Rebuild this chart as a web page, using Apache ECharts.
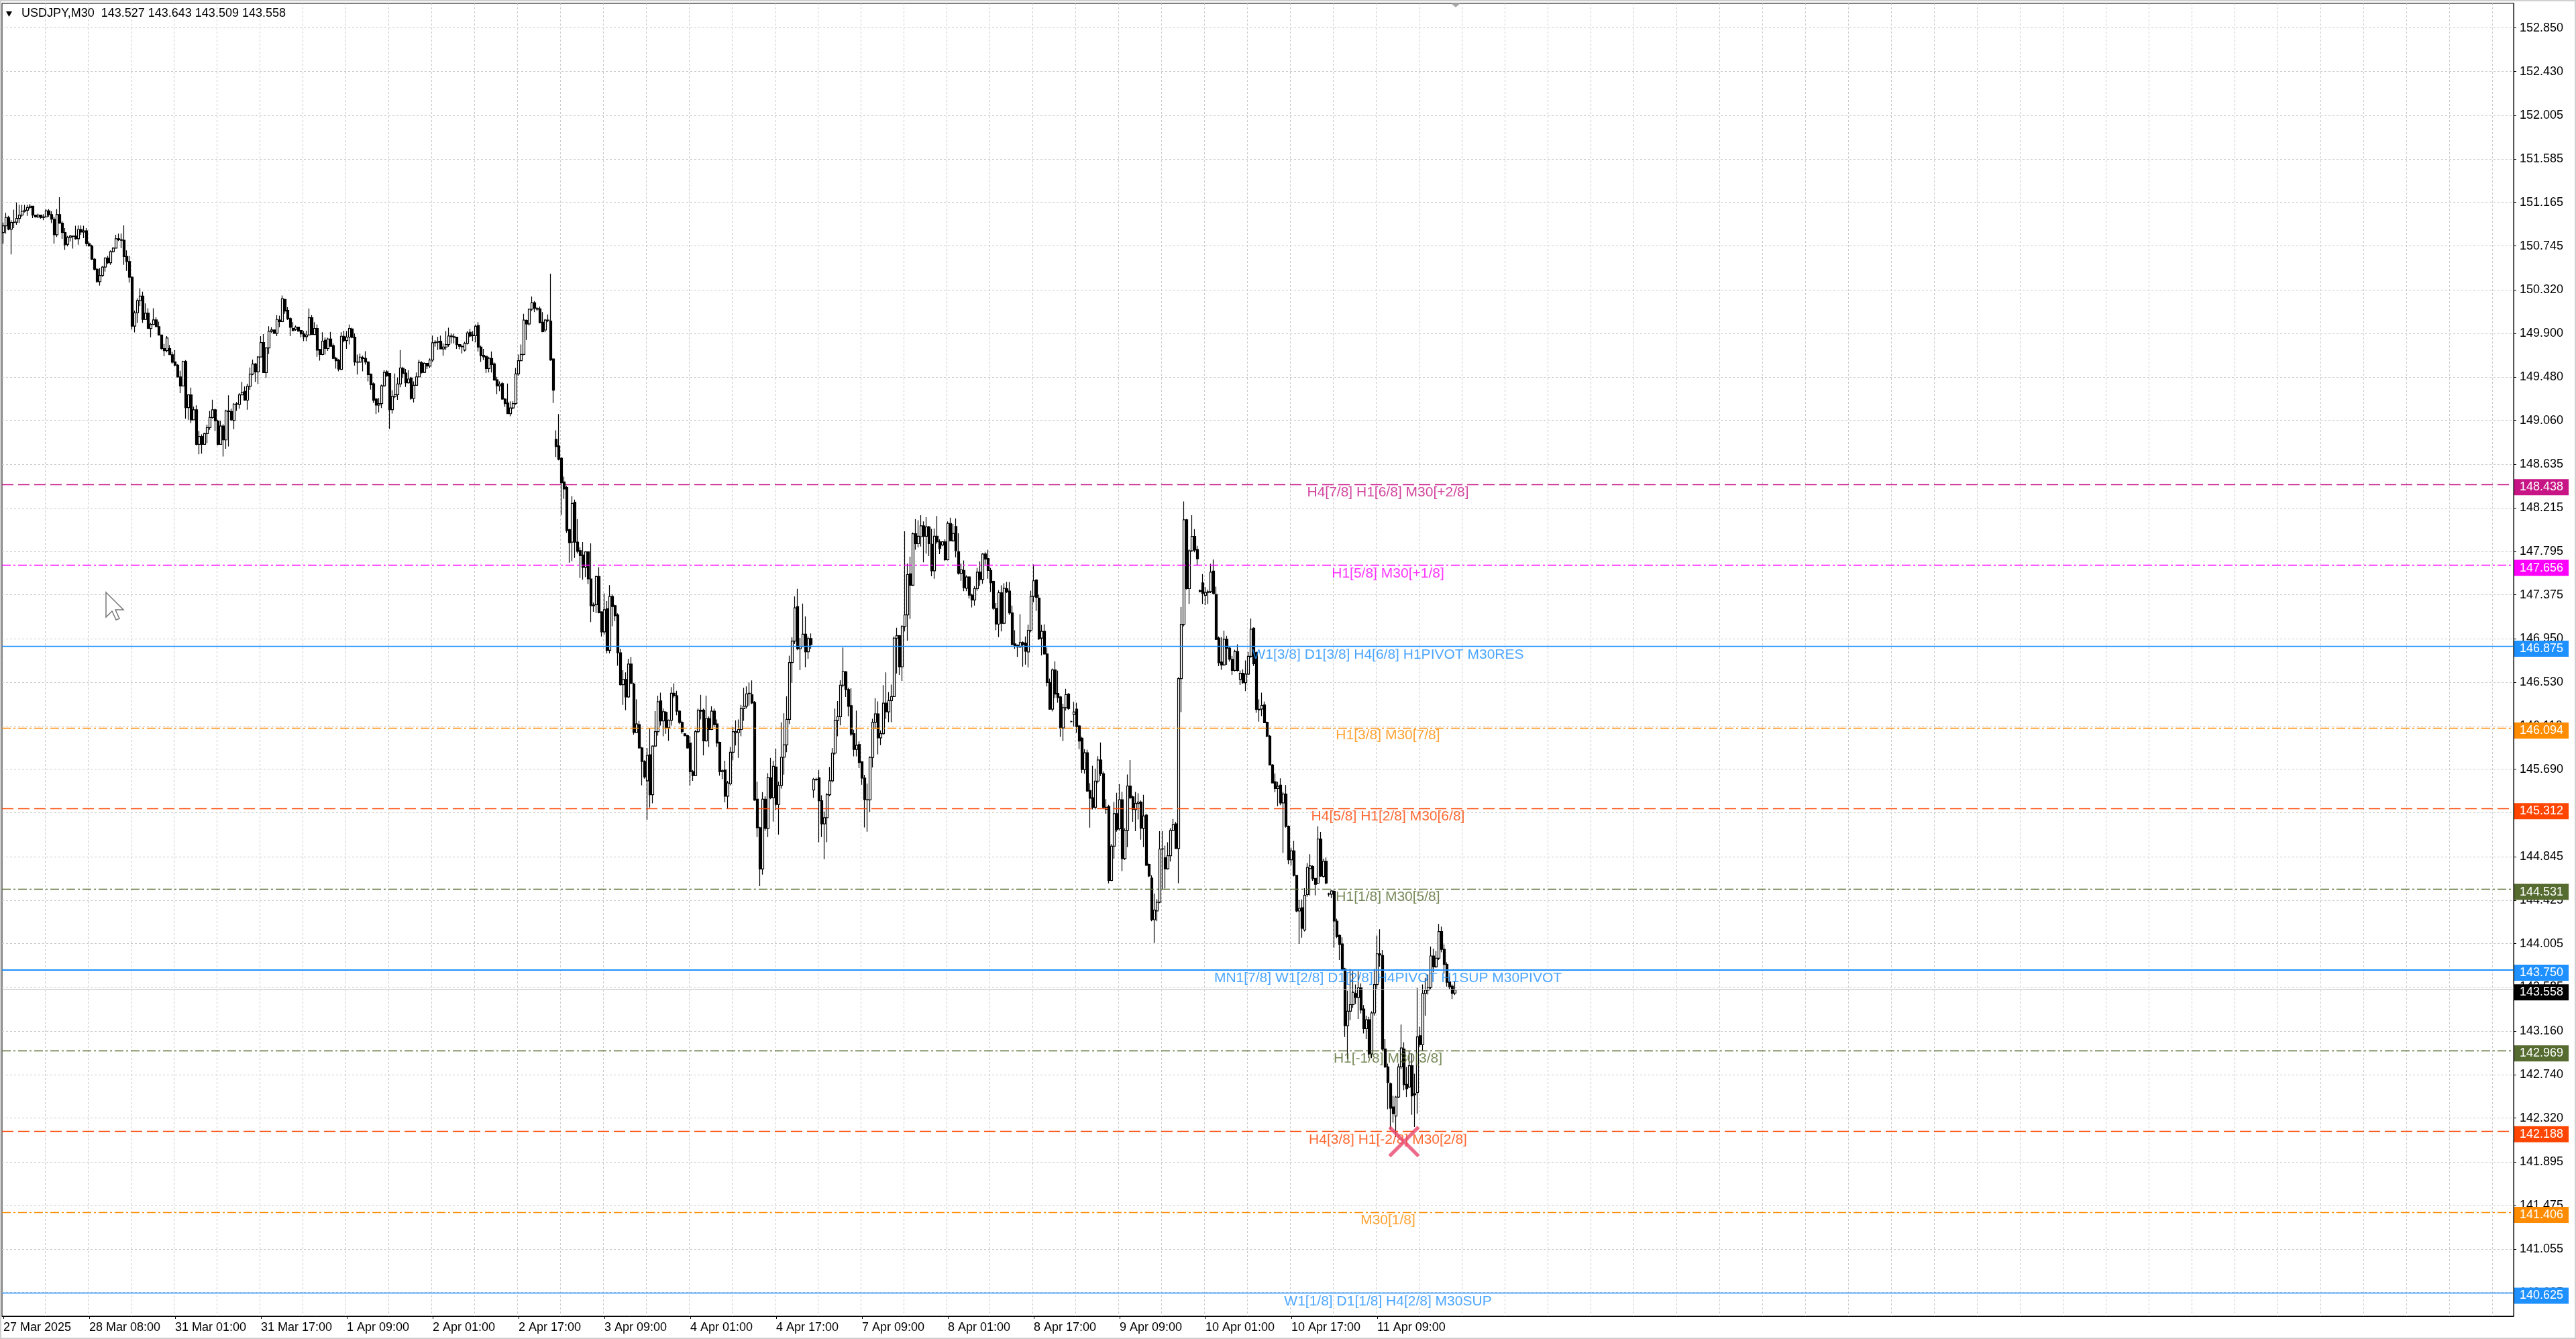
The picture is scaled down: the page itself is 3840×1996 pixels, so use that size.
<!DOCTYPE html>
<html lang="en">
<head>
<meta charset="UTF-8">
<title>USDJPY,M30</title>
<script src="https://cdn.jsdelivr.net/npm/echarts@6.0.0/dist/echarts.min.js"></script>
<style>
  html, body { margin: 0; padding: 0; background: #fff; }
  #main { width: 3840px; height: 1996px; }
</style>
</head>
<body>
<div id="main"></div>
<script>
// USDJPY M30 bars, rows are [open, high, low, close]
var bars = [
[150.874,150.971,150.767,150.939],[150.939,151.064,150.863,151.019],[151.019,151.036,150.896,150.907],[150.907,150.993,150.663,150.971],
[150.971,151.096,150.917,150.975],[150.975,151.165,150.950,151.010],[151.010,151.143,150.965,151.042],[151.042,151.143,151.025,151.079],
[151.079,151.143,151.068,151.090],[151.090,151.143,151.036,151.115],[151.115,151.148,151.100,151.128],[151.128,151.133,151.014,151.042],
[151.042,151.047,151.019,151.025],[151.025,151.057,151.014,151.042],[151.042,151.047,151.008,151.019],[151.019,151.051,150.993,151.025],
[151.025,151.100,151.025,151.083],[151.083,151.100,151.025,151.047],[151.047,151.079,150.965,151.003],[151.003,151.025,150.767,150.853],
[150.853,151.100,150.831,151.047],[151.047,151.215,150.960,150.965],[150.965,150.982,150.814,150.874],[150.874,150.917,150.706,150.756],
[150.761,150.842,150.741,150.827],[150.827,150.853,150.788,150.840],[150.840,150.842,150.719,150.836],[150.840,150.939,150.805,150.814],
[150.814,150.943,150.756,150.904],[150.904,150.943,150.853,150.879],[150.879,150.939,150.820,150.891],[150.891,150.917,150.741,150.767],
[150.767,150.788,150.741,150.745],[150.745,150.756,150.610,150.616],[150.616,150.627,150.508,150.519],[150.519,150.530,150.390,150.400],
[150.400,150.530,150.362,150.459],[150.459,150.551,150.448,150.540],[150.540,150.637,150.497,150.627],[150.627,150.648,150.568,150.583],
[150.583,150.702,150.562,150.689],[150.689,150.734,150.680,150.723],[150.723,150.853,150.719,150.814],[150.814,150.863,150.792,150.805],
[150.805,150.863,150.723,150.800],[150.800,150.943,150.562,150.642],[150.642,150.702,150.504,150.594],[150.594,150.648,150.390,150.443],
[150.443,150.450,149.937,149.970],[149.970,150.120,149.909,150.099],[150.099,150.239,150.002,150.217],[150.217,150.336,150.164,150.260],
[150.260,150.303,150.002,150.034],[150.034,150.189,150.030,150.095],[150.095,150.142,149.944,149.948],[149.948,150.002,149.862,149.987],
[149.987,150.142,149.980,150.030],[150.030,150.056,149.959,149.965],[149.965,150.013,149.879,149.884],[149.884,149.888,149.743,149.754],
[149.754,149.797,149.679,149.733],[149.733,149.873,149.716,149.855],[149.754,149.787,149.690,149.694],[149.694,149.722,149.608,149.621],
[149.626,149.737,149.582,149.593],[149.593,149.604,149.474,149.479],[149.479,149.539,149.323,149.392],[149.392,149.636,149.388,149.629],
[149.629,149.642,149.076,149.183],[149.183,149.313,149.065,149.306],[149.306,149.377,149.033,149.065],[149.065,149.194,149.060,149.162],
[149.162,149.205,148.817,148.828],[148.828,148.957,148.731,148.904],[148.904,148.925,148.738,148.828],[148.828,148.940,148.824,148.932],
[148.932,149.018,148.839,148.990],[148.990,149.151,148.968,149.087],[149.087,149.259,149.076,149.162],[149.162,149.173,148.957,149.054],
[149.054,149.065,148.817,148.828],[148.828,149.054,148.824,149.005],[149.005,149.022,148.710,148.871],[148.871,149.162,148.785,149.151],
[149.151,149.302,148.807,149.145],[149.145,149.173,149.054,149.065],[149.060,149.227,148.975,149.216],[149.216,149.237,149.151,149.220],
[149.214,149.323,149.173,149.306],[149.306,149.431,149.302,149.328],[149.340,149.388,149.248,149.255],[149.255,149.414,149.162,149.388],
[149.388,149.571,149.356,149.507],[149.507,149.647,149.496,149.604],[149.604,149.614,149.431,149.528],[149.528,149.679,149.410,149.672],
[149.672,149.873,149.668,149.812],[149.812,149.894,149.517,149.522],[149.522,149.765,149.470,149.759],[149.759,149.970,149.700,149.920],
[149.920,149.959,149.905,149.933],[149.933,149.937,149.894,149.901],[149.901,150.077,149.873,150.034],[150.029,150.072,149.960,150.014],
[150.014,150.266,150.008,150.234],[150.228,150.234,150.090,150.116],[150.122,150.154,150.029,150.040],[150.044,150.055,149.874,149.958],
[149.947,150.008,149.922,149.926],[149.939,149.976,149.926,149.960],[149.960,149.965,149.917,149.922],[149.928,149.932,149.861,149.896],
[149.896,149.922,149.825,149.868],[149.868,149.926,149.825,149.885],[149.885,150.141,149.879,150.051],[150.051,150.077,149.885,149.889],
[149.889,150.008,149.885,149.948],[149.948,149.986,149.674,149.739],[149.745,149.750,149.637,149.696],[149.696,149.911,149.689,149.825],
[149.835,149.861,149.696,149.754],[149.754,149.857,149.732,149.846],[149.846,149.915,149.771,149.775],[149.782,149.803,149.652,149.659],
[149.659,149.674,149.560,149.637],[149.641,149.652,149.534,149.556],[149.552,149.911,149.545,149.872],[149.872,149.926,149.814,149.831],
[149.831,149.922,149.750,149.864],[149.864,149.986,149.792,149.948],[149.943,149.954,149.853,149.861],[149.864,149.900,149.588,149.624],
[149.624,149.696,149.502,149.622],[149.622,149.706,149.620,149.670],[149.665,149.685,149.534,149.657],[149.657,149.728,149.599,149.624],
[149.624,149.631,149.437,149.502],[149.506,149.513,149.357,149.405],[149.413,149.426,149.228,149.254],[149.265,149.276,149.120,149.207],
[149.207,149.276,149.136,149.222],[149.222,149.405,149.179,149.394],[149.394,149.545,149.383,149.523],[149.530,149.545,149.480,149.491],
[149.513,149.517,148.978,149.164],[149.164,149.351,149.125,149.291],[149.291,149.513,149.276,149.308],[149.308,149.474,149.258,149.411],
[149.411,149.739,149.379,149.566],[149.562,149.577,149.469,149.513],[149.517,149.556,149.383,149.422],[149.422,149.545,149.415,149.459],
[149.469,149.480,149.258,149.271],[149.271,149.437,149.233,149.398],[149.398,149.523,149.394,149.480],[149.480,149.646,149.474,149.620],
[149.616,149.631,149.513,149.523],[149.523,149.620,149.517,149.610],[149.610,149.612,149.556,149.584],[149.584,149.659,149.566,149.642],
[149.642,149.879,149.624,149.810],[149.810,149.835,149.771,149.814],[149.814,149.868,149.739,149.825],[149.825,149.879,149.745,149.750],
[149.750,149.803,149.685,149.767],[149.767,149.922,149.739,149.792],[149.792,149.954,149.771,149.874],[149.874,149.900,149.803,149.868],
[149.868,149.896,149.803,149.861],[149.864,149.868,149.750,149.792],[149.792,149.797,149.745,149.775],[149.775,149.792,149.706,149.771],
[149.739,149.818,149.724,149.803],[149.803,149.922,149.792,149.904],[149.911,149.943,149.861,149.874],[149.885,149.922,149.825,149.877],
[149.877,149.986,149.814,149.969],[149.976,150.008,149.724,149.767],[149.767,149.782,149.624,149.685],[149.689,149.750,149.642,149.674],
[149.678,149.685,149.517,149.560],[149.560,149.674,149.523,149.659],[149.657,149.724,149.523,149.599],[149.605,149.620,149.444,149.448],
[149.452,149.480,149.314,149.394],[149.394,149.437,149.340,149.409],[149.415,149.431,149.258,149.265],[149.265,149.276,149.190,149.222],
[149.228,149.416,149.120,149.125],[149.125,149.243,149.099,149.179],[149.179,149.243,149.168,149.222],[149.222,149.566,149.211,149.508],
[149.508,149.696,149.491,149.637],[149.637,149.792,149.631,149.696],[149.696,150.090,149.689,150.029],[150.025,150.034,149.836,149.991],
[149.991,150.141,149.976,150.133],[150.133,150.256,150.116,150.195],[150.195,150.213,150.105,150.141],[150.141,150.154,150.116,150.133],
[150.137,150.159,149.997,150.004],[150.008,150.105,149.911,149.917],[149.932,150.040,149.911,150.029],[150.029,150.083,150.008,150.025],
[150.019,150.477,149.635,149.642],[149.652,149.659,149.228,149.351],[148.877,148.963,148.705,148.806],[148.813,149.120,148.673,148.683],
[148.694,148.705,148.145,148.457],[148.466,148.516,148.300,148.397],[148.412,148.427,147.973,147.997],[148.003,148.012,147.685,147.878],
[147.884,148.329,147.700,148.258],[148.270,148.294,147.730,147.884],[147.884,148.107,147.774,147.795],[147.801,147.834,147.537,147.753],
[147.759,147.884,147.522,147.641],[147.641,147.795,147.546,147.789],[147.789,147.795,147.477,147.528],[147.528,147.871,147.112,147.270],
[147.276,147.299,147.210,147.270],[147.279,147.558,147.199,147.552],[147.552,147.641,147.195,147.201],[147.210,147.215,146.973,147.017],
[147.017,147.388,146.990,147.231],[147.240,147.314,146.809,146.839],[146.839,147.468,146.809,147.359],[147.359,147.379,147.071,147.261],
[147.270,147.279,147.121,147.172],[147.180,147.195,146.691,146.815],[146.815,146.854,146.498,146.507],[146.507,146.646,146.311,146.557],
[146.557,146.626,146.260,146.388],[146.388,146.756,146.379,146.706],[146.706,146.774,146.513,146.519],[146.513,146.525,146.023,146.044],
[146.044,146.364,146.038,146.127],[146.121,146.157,145.889,145.895],[145.895,145.904,145.533,145.765],[145.765,145.777,145.598,145.616],
[145.578,145.895,145.201,145.824],[145.830,146.082,145.319,145.444],[145.444,145.919,145.361,145.913],[145.913,146.251,145.904,146.053],
[146.053,146.400,146.014,146.341],[146.350,146.429,146.112,146.157],[146.157,146.275,146.008,146.246],[146.240,146.251,146.032,146.091],
[146.091,146.171,145.964,146.163],[146.163,146.483,146.112,146.424],[146.424,146.519,146.379,146.400],[146.400,146.447,146.210,146.251],
[146.251,146.260,146.127,146.142],[146.142,146.157,146.032,146.053],[146.032,146.038,146.008,146.014],[146.014,146.023,145.889,145.895],
[145.943,146.008,145.533,145.667],[145.667,145.682,145.578,145.628],[145.628,146.068,145.622,146.053],[146.053,146.275,146.038,146.260],
[146.260,146.409,146.171,146.251],[146.260,146.275,145.824,145.964],[145.964,146.400,145.955,146.180],[146.180,146.201,145.904,146.073],
[146.073,146.299,146.068,146.251],[146.251,146.275,146.097,146.121],[146.127,146.171,145.904,145.943],[145.949,145.955,145.628,145.667],
[145.667,145.688,145.593,145.676],[145.682,145.771,145.370,145.429],[145.429,145.578,145.311,145.557],[145.548,145.904,145.533,145.854],
[145.854,146.097,145.777,146.053],[146.041,146.162,145.919,146.053],[146.044,146.171,145.800,146.073],[146.073,146.311,146.008,146.275],
[146.275,146.477,146.157,146.299],[146.299,146.489,146.275,146.418],[146.418,146.527,146.305,146.424],[146.409,146.548,146.320,146.329],
[146.335,146.349,145.385,145.391],[145.400,145.569,145.034,145.124],[145.124,145.133,144.560,144.726],[144.726,145.468,144.672,145.400],
[145.400,145.429,145.094,145.118],[145.118,145.652,145.034,145.607],[145.607,145.800,145.400,145.414],[145.414,145.771,145.183,145.717],
[145.711,145.889,145.296,145.349],[145.349,145.569,145.058,145.533],[145.533,146.142,145.503,145.806],[145.806,146.231,145.637,145.925],
[145.925,146.394,145.854,146.171],[146.171,146.786,146.127,146.720],[146.720,146.964,146.527,146.928],[146.928,147.359,146.899,147.249],
[147.261,147.433,146.839,146.854],[146.854,146.958,146.646,146.875],[146.875,147.290,146.870,146.994],[146.994,147.166,146.676,146.824],
[146.824,146.973,146.756,146.952],[146.952,147.002,146.854,146.893],[145.489,145.607,145.414,145.593],[145.593,145.607,145.578,145.590],
[145.607,145.682,144.984,145.385],[145.385,145.438,145.034,145.162],[145.162,145.281,144.821,145.222],[145.222,145.459,144.984,145.444],
[145.444,145.711,145.429,145.578],[145.578,145.895,145.563,145.845],[145.845,146.275,145.830,146.161],[146.161,146.349,146.008,146.197],
[146.197,146.550,146.113,146.502],[146.502,146.865,146.483,146.631],[146.631,146.638,146.387,146.459],[146.459,146.478,146.201,146.297],
[146.304,146.471,146.010,146.029],[146.034,146.072,145.814,145.881],[145.881,146.256,145.814,145.922],[145.929,145.958,145.700,145.755],
[145.762,145.767,145.540,145.604],[145.604,145.635,145.127,145.396],[145.396,145.552,145.086,145.394],[145.394,145.814,145.277,145.803],
[145.803,146.177,145.707,146.144],[146.144,146.376,146.077,146.225],[146.225,146.345,145.833,145.993],[145.993,146.065,145.922,146.034],
[146.034,146.502,146.025,146.328],[146.328,146.626,146.177,146.244],[146.244,146.435,146.144,146.352],[146.352,146.507,146.144,146.392],
[146.392,146.973,146.387,146.956],[146.956,147.056,146.614,146.980],[146.980,146.985,146.602,146.679],[146.679,147.080,146.543,147.068],
[147.068,147.988,147.020,147.180],[147.180,147.677,146.932,147.570],[147.577,147.744,147.140,147.467],[147.467,147.976,147.460,147.964],
[147.964,148.107,147.809,147.868],[147.868,148.095,147.832,147.940],[147.936,148.143,147.840,148.040],[148.040,148.083,147.689,147.940],
[147.940,148.126,147.773,148.031],[148.031,148.040,147.749,147.868],[147.863,148.012,147.553,147.606],[147.606,148.016,147.529,147.940],
[147.940,148.136,147.868,147.887],[147.887,147.911,147.768,147.821],[147.856,147.892,147.844,147.887],[147.887,147.911,147.701,147.713],
[147.713,148.083,147.706,148.064],[148.064,148.119,147.892,147.897],[147.897,148.059,147.887,147.968],[148.035,148.112,147.737,147.801],
[147.792,147.968,147.570,147.582],[147.582,147.677,147.510,147.617],[147.610,147.706,147.410,147.443],[147.438,147.563,147.410,147.546],
[147.546,147.553,147.338,147.371],[147.371,147.386,147.252,147.324],[147.324,147.458,147.271,147.434],[147.434,147.634,147.414,147.594],
[147.594,147.696,147.462,147.522],[147.522,147.777,147.481,147.768],[147.768,147.785,147.665,147.720],[147.725,147.809,147.529,147.610],
[147.610,147.634,147.403,147.491],[147.505,147.510,147.228,147.243],[147.243,147.295,147.032,147.092],[147.092,147.419,146.965,147.395],
[147.395,147.467,147.020,147.099],[147.099,147.486,147.092,147.438],[147.434,147.498,147.391,147.403],[147.410,147.498,147.180,147.200],
[147.200,147.271,146.889,146.894],[146.901,147.032,146.853,146.877],[146.889,146.894,146.774,146.870],[146.870,147.187,146.860,146.913],
[146.913,146.925,146.680,146.894],[146.908,146.973,146.700,146.829],[146.822,147.085,146.674,147.032],[147.032,147.414,147.013,147.360],
[147.360,147.667,147.303,147.510],[147.518,147.527,147.218,147.350],[147.342,147.378,146.938,146.949],[146.957,147.084,146.789,147.022],
[147.022,147.089,146.798,146.803],[146.803,146.865,146.489,146.528],[146.528,146.565,146.265,146.270],[146.270,146.663,146.248,146.649],
[146.649,146.733,146.377,146.416],[146.422,146.641,146.332,146.382],[146.388,146.397,146.004,146.088],[146.088,146.321,145.962,146.284],
[146.284,146.467,146.256,146.410],[146.416,146.425,146.265,146.276],[146.150,146.160,146.140,146.150],[146.220,146.340,146.102,146.242],
[146.270,146.332,146.040,146.102],[146.108,146.116,145.883,145.962],[145.990,146.004,145.653,145.687],[145.687,145.883,145.647,145.849],
[145.849,145.878,145.471,145.479],[145.485,145.555,145.126,145.409],[145.415,145.723,145.302,145.322],[145.322,145.695,145.302,145.575],
[145.575,145.816,145.555,145.779],[145.779,145.948,145.625,145.647],[145.647,145.667,145.311,145.322],[145.302,145.401,145.260,145.322],
[145.330,145.345,144.587,144.615],[144.615,144.966,144.609,144.946],[144.946,145.373,144.826,145.260],[145.260,145.462,145.087,145.106],
[145.115,145.547,145.098,145.395],[145.395,145.471,144.705,144.826],[144.826,145.120,144.812,145.098],[145.098,145.639,144.938,145.527],
[145.527,145.779,145.401,145.415],[145.423,145.434,145.182,145.302],[145.300,145.471,145.092,145.359],[145.359,145.457,145.204,145.373],
[145.373,145.387,145.008,145.120],[145.120,145.443,144.938,145.238],[145.246,145.260,144.756,144.761],[144.770,144.778,144.649,144.657],
[144.638,144.666,144.222,144.236],[144.236,144.489,144.012,144.329],[144.321,144.433,144.222,144.405],[144.405,145.092,144.396,144.918],
[144.918,145.092,144.531,144.921],[144.834,144.952,144.537,144.727],[144.727,144.985,144.720,144.854],[144.854,145.120,144.798,145.098],
[145.098,145.210,145.092,145.154],[145.162,145.182,144.918,144.924],[144.924,146.579,144.587,146.565],[146.565,147.258,146.242,147.089],
[147.089,148.276,147.070,148.099],[148.099,148.108,147.426,147.434],[147.434,147.813,147.286,147.799],[147.799,148.144,147.791,147.939],
[147.939,148.009,147.785,147.807],[147.813,147.847,147.659,147.723],[147.415,147.426,147.398,147.406],[147.490,147.575,147.286,147.387],
[147.370,147.448,147.275,147.398],[147.395,147.426,147.286,147.406],[147.406,147.673,147.392,147.594],[147.603,147.715,147.378,147.387],
[147.378,147.454,146.938,146.943],[146.957,146.972,146.685,146.719],[146.725,146.966,146.649,146.697],[146.697,147.028,146.691,146.945],
[146.945,146.978,146.698,146.859],[146.859,146.870,146.730,146.752],[146.752,146.784,146.601,146.644],[146.644,146.844,146.633,146.827],
[146.827,146.896,146.633,146.644],[146.558,146.644,146.504,146.616],[146.616,146.655,146.515,146.526],[146.526,146.741,146.444,146.608],
[146.608,146.823,146.601,146.780],[146.780,147.145,146.767,147.042],[147.053,147.060,146.687,146.709],[146.816,146.827,146.235,146.268],
[146.268,146.364,146.149,146.263],[146.272,146.429,146.203,146.306],[146.310,146.343,146.134,146.138],[146.143,146.149,145.999,146.009],
[146.009,146.020,145.726,145.730],[145.730,145.740,145.553,145.557],[145.568,145.648,145.467,145.504],[145.504,145.568,145.332,145.525],
[145.536,145.601,145.343,145.364],[145.364,145.471,144.880,145.450],[145.450,145.536,145.125,145.138],[145.138,145.147,144.772,144.815],
[144.815,144.932,144.762,144.901],[144.901,144.998,144.654,144.665],[144.665,144.668,144.309,144.320],[144.320,144.428,144.002,144.346],
[144.352,144.432,144.062,144.152],[144.137,144.540,144.122,144.471],[144.480,144.783,144.460,144.740],[144.729,144.869,144.471,144.757],
[144.751,144.761,144.611,144.632],[144.636,144.640,144.471,144.578],[144.589,145.138,144.580,145.015],[145.015,145.084,144.650,144.658],
[144.654,144.826,144.643,144.800],[144.800,144.837,144.578,144.589],[144.486,144.497,144.460,144.482],[144.482,144.525,144.445,144.514],
[144.510,144.520,143.965,144.223],[144.223,144.245,144.058,144.073],[144.084,144.094,143.847,143.997],[144.002,144.066,143.739,143.761],
[143.761,143.771,143.104,143.212],[143.212,143.550,142.889,143.352],[143.352,143.761,143.266,143.416],[143.416,143.739,143.384,143.535],
[143.524,143.610,143.421,143.485],[143.485,143.739,143.277,143.578],[143.578,143.621,143.330,143.363],[143.373,143.412,143.137,143.184],
[143.184,143.309,143.083,143.270],[143.270,143.298,142.900,142.939],[142.939,143.352,142.900,143.335],[143.335,143.761,143.309,143.610],
[143.610,144.084,143.567,143.907],[143.907,144.144,143.782,143.894],[143.890,143.944,142.965,142.986],[142.986,143.083,142.803,142.814],
[142.814,142.846,142.405,142.663],[142.652,142.663,142.211,142.416],[142.427,142.534,142.276,142.362],[142.340,142.534,142.136,142.523],
[142.523,142.846,142.513,142.814],[142.814,143.223,142.792,142.997],[142.986,143.051,142.588,142.642],[142.646,142.814,142.523,142.603],
[142.620,142.965,142.610,142.825],[142.825,142.943,142.351,142.534],[142.555,142.749,142.233,142.545],[142.566,143.578,142.362,143.104],
[143.115,143.201,143.008,143.029],[143.029,143.610,142.965,143.524],[143.524,143.675,143.309,143.556],[143.556,143.707,143.513,143.584],
[143.584,143.976,143.567,143.886],[143.886,143.955,143.728,143.782],[143.782,143.933,143.771,143.864],[143.864,144.195,143.847,144.122],
[144.122,144.170,143.922,143.950],[143.950,143.997,143.718,143.804],[143.804,143.825,143.589,143.632],[143.636,143.686,143.567,143.589],
[143.593,143.610,143.470,143.524],[143.527,143.643,143.509,143.558]
];

// time labels, one every 32 bars
var xTickLabels = ['27 Mar 2025', '28 Mar 08:00', '31 Mar 01:00', '31 Mar 17:00', '1 Apr 09:00', '2 Apr 01:00',
  '2 Apr 17:00', '3 Apr 09:00', '4 Apr 01:00', '4 Apr 17:00', '7 Apr 09:00', '8 Apr 01:00', '8 Apr 17:00',
  '9 Apr 09:00', '10 Apr 01:00', '10 Apr 17:00', '11 Apr 09:00'];

// price scale labels
var yTicks = [152.850, 152.430, 152.005, 151.585, 151.165, 150.745, 150.320, 149.900, 149.480, 149.060,
  148.635, 148.215, 147.795, 147.375, 146.950, 146.530, 146.110, 145.690, 145.270, 144.845,
  144.425, 144.005, 143.585, 143.160, 142.740, 142.320, 141.895, 141.475, 141.055, 140.635];

// murrey math levels and their captions
var levels = [148.438, 147.656, 146.875, 146.094, 145.312, 144.531, 143.750, 142.969, 142.188, 141.406, 140.625];
var levelNames = [
  'H4[7/8] H1[6/8] M30[+2/8]',
  'H1[5/8] M30[+1/8]',
  'W1[3/8] D1[3/8] H4[6/8] H1PIVOT M30RES',
  'H1[3/8] M30[7/8]',
  'H4[5/8] H1[2/8] M30[6/8]',
  'H1[1/8] M30[5/8]',
  'MN1[7/8] W1[2/8] D1[2/8] H4PIVOT H1SUP M30PIVOT',
  'H1[-1/8] M30[3/8]',
  'H4[3/8] H1[-2/8] M30[2/8]',
  'M30[1/8]',
  'W1[1/8] D1[1/8] H4[2/8] M30SUP'
];

// the low marked with a cross: [bar index, price]
var lowMark = [[522, 142.093]];

// ---- styles ----
var DASH = [17, 7];
var DASHDOT = [13, 4, 3, 4];
var levelStyles = [
  {color: '#C71585', type: DASH},
  {color: '#FF00FF', type: DASHDOT},
  {color: '#1E90FF', type: 'solid'},
  {color: '#FF8C00', type: DASHDOT},
  {color: '#FF4500', type: DASH},
  {color: '#556B2F', type: DASHDOT},
  {color: '#1E90FF', type: 'solid', width: 2},
  {color: '#556B2F', type: DASHDOT},
  {color: '#FF4500', type: DASH},
  {color: '#FF8C00', type: DASHDOT},
  {color: '#1E90FF', type: 'solid'}
];

var FONT = 'Liberation Sans';
var nSlots = 936;          // chart keeps empty space on the right
var labelStep = 32;
var captionBar = 515.5;

var cats = [];
for (var i = 0; i < nSlots; i++) cats.push(String(i));

var candleData = bars.map(function (b) { return [b[0], b[3], b[2], b[1]]; });
var last = bars[bars.length - 1];

function isLabelSlot(i) {
  return i % labelStep === 0 && i / labelStep < xTickLabels.length;
}

var markData = levels.map(function (v, i) {
  var s = levelStyles[i];
  return {
    yAxis: v,
    lineStyle: {color: s.color, type: s.type, width: s.width || 1.4},
    label: {formatter: v.toFixed(3), backgroundColor: s.color}
  };
});
// bid line
markData.push({
  yAxis: last[3],
  lineStyle: {color: '#b8b8b8', type: 'solid', width: 1},
  label: {formatter: last[3].toFixed(3), backgroundColor: '#000'}
});

var option = {
  animation: false,
  backgroundColor: '#ffffff',
  grid: {
    left: 3, top: 5, width: 3744, height: 1957,
    show: true, borderColor: '#000', borderWidth: 1
  },
  xAxis: {
    type: 'category',
    data: cats,
    boundaryGap: true,
    axisLine: {show: true, lineStyle: {color: '#000', width: 1}},
    axisTick: {show: true, alignWithLabel: true, interval: isLabelSlot, length: 4, lineStyle: {color: '#000'}},
    axisLabel: {
      show: true, interval: isLabelSlot, align: 'left', margin: 8,
      color: '#000', fontFamily: FONT, fontSize: 18,
      formatter: function (v, idx) { return xTickLabels[idx / labelStep]; }
    },
    splitLine: {
      show: true,
      interval: function (idx) { return idx > 0 && idx % 16 === 0; },
      lineStyle: {color: '#c8c8c8', type: [3, 3], width: 1}
    }
  },
  yAxis: {
    type: 'value',
    position: 'right',
    scale: true,
    min: 140.406,
    max: 153.088,
    axisLine: {show: true, lineStyle: {color: '#000', width: 1}},
    axisTick: {show: true, customValues: yTicks, length: 4, lineStyle: {color: '#000'}},
    axisLabel: {
      show: true, customValues: yTicks, margin: 9,
      color: '#000', fontFamily: FONT, fontSize: 18,
      formatter: function (v) { return v.toFixed(3); }
    },
    splitLine: {show: true, lineStyle: {color: '#c8c8c8', type: [3, 3], width: 1}}
  },
  series: [
    {
      type: 'candlestick',
      name: 'USDJPY,M30',
      data: candleData,
      barWidth: 3,
      silent: true,
      z: 3,
      itemStyle: {
        color: '#ffffff', color0: '#000000',
        borderColor: '#000000', borderColor0: '#000000', borderWidth: 1.2
      },
      markLine: {
        silent: true,
        symbol: ['none', 'none'],
        animation: false,
        label: {
          show: true, position: 'end', distance: 1, offset: [0, 4],
          color: '#fff', fontFamily: FONT, fontSize: 18,
          padding: [3, 8, 2, 8], lineHeight: 19
        },
        data: markData
      }
    },
    {
      type: 'scatter',
      silent: true,
      z: 5,
      symbolSize: 1,
      itemStyle: {color: 'rgba(0,0,0,0)'},
      data: levels.map(function (v, i) {
        return {value: [captionBar, v], label: {color: levelStyles[i].color}};
      }),
      label: {
        show: true, position: 'inside', offset: [0, 12],
        fontFamily: FONT, fontSize: 21,
        formatter: function (p) { return levelNames[p.dataIndex]; }
      }
    },
    {
      type: 'scatter',
      silent: true,
      z: 6,
      symbol: 'path://M8,0 L50,42 L92,0 L100,8 L58,50 L100,92 L92,100 L50,58 L8,100 L0,92 L42,50 L0,8 Z',
      symbolSize: 47,
      itemStyle: {color: '#e8456c'},
      data: lowMark
    }
  ],
  graphic: [
    {type: 'rect', silent: true, z: 100, shape: {x: 0, y: 0, width: 3840, height: 1996},
      style: {fill: 'none', stroke: '#cfcfcf', lineWidth: 4}},
    {type: 'polygon', silent: true, z: 100, shape: {points: [[9, 17], [18, 17], [13.5, 25]]}, style: {fill: '#000'}},
    {type: 'text', silent: true, z: 100, left: 32, top: 11,
      style: {
        text: 'USDJPY,M30  ' + last.map(function (v) { return v.toFixed(3); }).join(' '),
        font: '18px "Liberation Sans"', fill: '#000'
      }},
    {type: 'polygon', silent: true, z: 100, shape: {points: [[2163, 5], [2177, 5], [2170, 11]]}, style: {fill: '#a8a8a8'}},
    {type: 'polygon', silent: true, z: 100,
      shape: {points: [[158, 883], [158, 920], [167, 911], [173, 924], [178, 922], [172, 909], [184, 909]]},
      style: {fill: '#fff', stroke: '#777', lineWidth: 1.5}}
  ]
};

var myChart = echarts.init(document.getElementById('main'));
myChart.setOption(option);
</script>
</body>
</html>
